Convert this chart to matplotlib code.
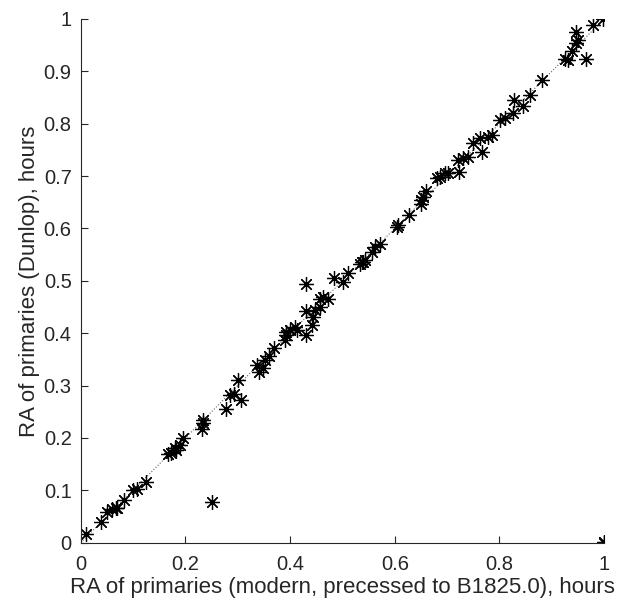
import matplotlib
matplotlib.use("Agg")
import matplotlib.pyplot as plt
import numpy as np

plt.rcParams['font.family'] = ['Liberation Sans', 'DejaVu Sans']

# RA (hours, fractional part)
ra_modern = [0.010, 0.038, 0.050, 0.059, 0.067, 0.070, 0.083, 0.100, 0.107, 0.125,
             0.167, 0.172, 0.180, 0.183, 0.190, 0.196, 0.232, 0.234, 0.234, 0.250,
             0.277, 0.285, 0.293, 0.301, 0.307, 0.337, 0.341, 0.348, 0.352, 0.360,
             0.369, 0.390, 0.392, 0.393, 0.400, 0.409, 0.413, 0.430, 0.430, 0.430,
             0.441, 0.444, 0.448, 0.457, 0.457, 0.463, 0.473, 0.483, 0.502, 0.511,
             0.534, 0.537, 0.540, 0.543, 0.556, 0.562, 0.572, 0.604, 0.606, 0.628,
             0.651, 0.651, 0.653, 0.660, 0.681, 0.686, 0.696, 0.702, 0.723, 0.721,
             0.731, 0.740, 0.750, 0.763, 0.766, 0.779, 0.785, 0.801, 0.810, 0.826,
             0.828, 0.845, 0.858, 0.881, 0.925, 0.931, 0.938, 0.947, 0.951, 0.947,
             0.965, 0.978, 0.998, 0.999, 1.000]
ra_dunlop = [0.017, 0.039, 0.058, 0.065, 0.067, 0.066, 0.081, 0.100, 0.103, 0.115,
             0.169, 0.171, 0.180, 0.176, 0.186, 0.199, 0.218, 0.228, 0.235, 0.078,
             0.256, 0.282, 0.284, 0.310, 0.272, 0.339, 0.326, 0.333, 0.349, 0.356,
             0.371, 0.387, 0.396, 0.403, 0.406, 0.412, 0.407, 0.396, 0.493, 0.443,
             0.415, 0.431, 0.444, 0.450, 0.466, 0.470, 0.465, 0.505, 0.498, 0.514,
             0.533, 0.536, 0.536, 0.540, 0.555, 0.565, 0.571, 0.603, 0.607, 0.626,
             0.647, 0.654, 0.661, 0.671, 0.696, 0.699, 0.705, 0.706, 0.708, 0.731,
             0.734, 0.737, 0.763, 0.772, 0.746, 0.775, 0.778, 0.807, 0.810, 0.820,
             0.845, 0.834, 0.855, 0.883, 0.923, 0.922, 0.938, 0.955, 0.960, 0.975,
             0.923, 0.988, 1.000, 0.001, 0.000]

fig = plt.figure(figsize=(6.28, 6.07), dpi=100)
ax = fig.add_axes([0.1285, 0.106, 0.8335, 0.8627])

ax.plot([0, 1], [0, 1], ':', color='0.4', linewidth=0.8)
ax.plot(ra_modern, ra_dunlop, linestyle='none', marker=(8, 2, 0),
        markersize=10.5, markeredgewidth=0.9, color='black')

ax.set_xlim(0, 1)
ax.set_ylim(0, 1)
ax.set_xticks(np.arange(0, 1.01, 0.2))
ax.set_xticklabels(['0', '0.2', '0.4', '0.6', '0.8', '1'])
ax.set_yticks(np.arange(0, 1.01, 0.1))
ax.set_yticklabels(['0', '0.1', '0.2', '0.3', '0.4', '0.5', '0.6', '0.7', '0.8', '0.9', '1'])
ax.tick_params(direction='in', length=5, width=0.8, colors='0.15', labelsize=14.5)
ax.tick_params(axis='y', pad=6.5)
ax.tick_params(axis='x', pad=9)
for s in ['top', 'right']:
    ax.spines[s].set_visible(False)
for s in ['left', 'bottom']:
    ax.spines[s].set_color('0.15')
    ax.spines[s].set_linewidth(0.8)

ax.set_xlabel('RA of primaries (modern, precessed to B1825.0), hours', fontsize=16, color='0.15', labelpad=2)
ax.set_ylabel('RA of primaries (Dunlop), hours', fontsize=16, color='0.15', labelpad=3)

fig.savefig('out.png', dpi=100)
